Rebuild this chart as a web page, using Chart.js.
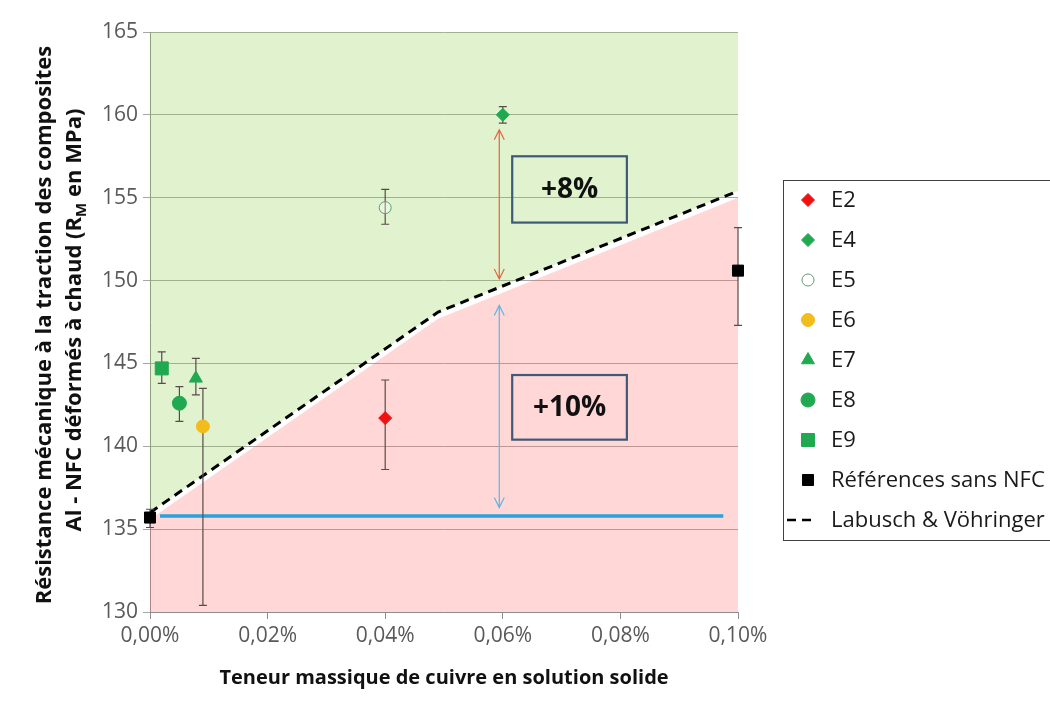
<!DOCTYPE html>
<html>
<head>
<meta charset="utf-8">
<script src="https://cdn.jsdelivr.net/npm/chart.js"></script>
<style>
  html, body { margin: 0; padding: 0; background: #fff; }
</style>
</head>
<body>
<canvas id="cuChart" width="1050" height="702"></canvas>
<script>
const fontFam = "'Open Sans', 'DejaVu Sans', sans-serif";

// valeurs : x en % massique de Cu, y en MPa
const e2X = [0.04],   e2Y = [141.7], e2Err = [[138.6, 144.0]];
const e4X = [0.06],   e4Y = [160.0], e4Err = [[159.5, 160.5]];
const e5X = [0.04],   e5Y = [154.4], e5Err = [[153.4, 155.5]];
const e6X = [0.009],  e6Y = [141.2], e6Err = [[130.4, 143.5]];
const e7X = [0.0078], e7Y = [144.1], e7Err = [[143.1, 145.3]];
const e8X = [0.005],  e8Y = [142.6], e8Err = [[141.5, 143.6]];
const e9X = [0.002],  e9Y = [144.7], e9Err = [[143.8, 145.7]];
const refX = [0, 0.1], refY = [135.7, 150.6];
const refErr = [[135.1, 136.2], [147.3, 153.2]];

// modele Labusch & Vohringer et limite de la zone rouge
const labuschX = [0, 0.049, 0.1];
const labuschY = [136.0, 148.1, 155.4];
const redEdgeY = [135.6, 147.7, 155.0];

// niveau de reference (ligne bleue)
const baseX = [0.0017, 0.0975];
const baseY = [135.8, 135.8];

// fleches et encadres de gain
const gainArrows = [
  { x: 0.0594, from: 150.1, to: 159.1, color: "#e4643f" },
  { x: 0.0594, from: 136.3, to: 148.5, color: "#62b4e2" },
];
const gainBoxes = [
  { x0: 0.0616, x1: 0.0811, y0: 153.5, y1: 157.5, text: "+8%" },
  { x0: 0.0616, x1: 0.0811, y0: 140.4, y1: 144.3, text: "+10%" },
];

const pts = (xs, ys) => xs.map((x, i) => ({ x: x, y: ys[i] }));

const green = "#21a951";

function pointSet(label, xs, ys, errs, style, radius, fill, stroke) {
  return {
    label: label,
    data: pts(xs, ys),
    errors: errs,
    inLegend: true,
    showLine: false,
    pointStyle: style,
    pointRadius: radius,
    pointBackgroundColor: fill,
    pointBorderColor: stroke,
    pointBorderWidth: 1,
    backgroundColor: fill,
    borderColor: stroke,
    clip: false,
    order: 0,
  };
}

function drawMarker(ctx, style, x, y, r, fill, stroke) {
  ctx.beginPath();
  if (style === "circle") {
    ctx.arc(x, y, r, 0, Math.PI * 2);
  } else if (style === "rectRot") {
    ctx.moveTo(x - r, y);
    ctx.lineTo(x, y - r);
    ctx.lineTo(x + r, y);
    ctx.lineTo(x, y + r);
    ctx.closePath();
  } else if (style === "rect") {
    const s = r * Math.SQRT1_2;
    ctx.rect(x - s, y - s, 2 * s, 2 * s);
  } else if (style === "triangle") {
    ctx.moveTo(x, y - r);
    ctx.lineTo(x + r * 0.866, y + r / 2);
    ctx.lineTo(x - r * 0.866, y + r / 2);
    ctx.closePath();
  }
  ctx.fillStyle = fill;
  ctx.fill();
  ctx.strokeStyle = stroke;
  ctx.lineWidth = 1;
  ctx.stroke();
}

const errorBars = {
  id: "errorBars",
  beforeDatasetDraw(chart, args) {
    const ds = chart.data.datasets[args.index];
    if (!ds.errors) return;
    const { ctx } = chart;
    const xs = chart.scales.x, ys = chart.scales.y;
    ctx.save();
    ctx.strokeStyle = "#5a4b4b";
    ctx.lineWidth = 1.2;
    ds.errors.forEach(([lo, hi], i) => {
      const px = xs.getPixelForValue(ds.data[i].x);
      const top = ys.getPixelForValue(hi);
      const bot = ys.getPixelForValue(lo);
      ctx.beginPath();
      ctx.moveTo(px, top);
      ctx.lineTo(px, bot);
      ctx.moveTo(px - 4, top);
      ctx.lineTo(px + 4, top);
      ctx.moveTo(px - 4, bot);
      ctx.lineTo(px + 4, bot);
      ctx.stroke();
    });
    ctx.restore();
  },
};

const gainMarks = {
  id: "gainMarks",
  afterDatasetsDraw(chart) {
    const { ctx } = chart;
    const xs = chart.scales.x, ys = chart.scales.y;
    ctx.save();
    gainArrows.forEach((a) => {
      const px = xs.getPixelForValue(a.x);
      const p1 = ys.getPixelForValue(a.from);
      const p2 = ys.getPixelForValue(a.to);
      ctx.strokeStyle = a.color;
      ctx.lineWidth = 1.2;
      ctx.beginPath();
      ctx.moveTo(px, p1);
      ctx.lineTo(px, p2);
      ctx.moveTo(px - 5, p2 + 10);
      ctx.lineTo(px, p2);
      ctx.lineTo(px + 5, p2 + 10);
      ctx.moveTo(px - 5, p1 - 10);
      ctx.lineTo(px, p1);
      ctx.lineTo(px + 5, p1 - 10);
      ctx.stroke();
    });
    gainBoxes.forEach((b) => {
      const l = xs.getPixelForValue(b.x0), r = xs.getPixelForValue(b.x1);
      const t = ys.getPixelForValue(b.y1), btm = ys.getPixelForValue(b.y0);
      ctx.strokeStyle = "#3d5a76";
      ctx.lineWidth = 2.2;
      ctx.strokeRect(l, t, r - l, btm - t);
      ctx.fillStyle = "#111";
      ctx.font = "bold 28px " + fontFam;
      ctx.textAlign = "center";
      ctx.textBaseline = "middle";
      ctx.fillText(b.text, (l + r) / 2, (t + btm) / 2 + 1);
    });
    ctx.restore();
  },
};

const sideTexts = {
  id: "sideTexts",
  afterDraw(chart) {
    const { ctx, chartArea } = chart;
    const cy = (chartArea.top + chartArea.bottom) / 2;
    ctx.save();
    // titre de l'axe vertical, sur deux lignes
    ctx.fillStyle = "#111";
    ctx.textBaseline = "middle";
    ctx.translate(45, cy + 3);
    ctx.rotate(-Math.PI / 2);
    ctx.font = "bold 22px " + fontFam;
    ctx.textAlign = "center";
    ctx.fillText("Résistance mécanique à la traction des composites", 0, 0);
    ctx.translate(5, 30);
    const partA = "Al - NFC déformés à chaud (R";
    const partB = "M";
    const partC = " en MPa)";
    const wA = ctx.measureText(partA).width;
    const wC = ctx.measureText(partC).width;
    ctx.font = "bold 15px " + fontFam;
    const wB = ctx.measureText(partB).width;
    let pos = -(wA + wB + wC) / 2;
    ctx.textAlign = "left";
    ctx.font = "bold 22px " + fontFam;
    ctx.fillText(partA, pos, 0);
    pos += wA;
    ctx.font = "bold 15px " + fontFam;
    ctx.fillText(partB, pos, 7);
    pos += wB;
    ctx.font = "bold 22px " + fontFam;
    ctx.fillText(partC, pos, 0);
    ctx.restore();

    // legende encadree a droite
    ctx.save();
    const boxLeft = chartArea.right + 45;
    ctx.strokeStyle = "#404040";
    ctx.lineWidth = 1;
    ctx.strokeRect(boxLeft + 0.5, 180.5, 300, 360);
    ctx.font = "22px " + fontFam;
    ctx.textAlign = "left";
    ctx.textBaseline = "middle";
    let rowY = 200;
    chart.data.datasets.forEach((ds) => {
      if (!ds.inLegend) return;
      const mx = boxLeft + 25;
      if (ds.pointStyle === false) {
        ctx.strokeStyle = ds.borderColor;
        ctx.lineWidth = 2.5;
        ctx.beginPath();
        ctx.moveTo(mx - 21, rowY);
        ctx.lineTo(mx - 12, rowY);
        ctx.moveTo(mx - 6, rowY);
        ctx.lineTo(mx + 3, rowY);
        ctx.stroke();
      } else {
        drawMarker(ctx, ds.pointStyle, mx, rowY, ds.pointRadius,
          ds.pointBackgroundColor, ds.pointBorderColor);
      }
      ctx.fillStyle = "#1a1a1a";
      ctx.fillText(ds.label, boxLeft + 48, rowY + 1);
      rowY += 40;
    });
    ctx.restore();
  },
};

new Chart(document.getElementById("cuChart"), {
  type: "line",
  data: {
    datasets: [
      pointSet("E2", e2X, e2Y, e2Err, "rectRot", 6.5, "#f01010", "#f01010"),
      pointSet("E4", e4X, e4Y, e4Err, "rectRot", 6.5, green, green),
      pointSet("E5", e5X, e5Y, e5Err, "circle", 6, "rgba(255,255,255,0.35)", "#5f9a72"),
      pointSet("E6", e6X, e6Y, e6Err, "circle", 6.5, "#f2bc1b", "#f2bc1b"),
      pointSet("E7", e7X, e7Y, e7Err, "triangle", 7.5, green, green),
      pointSet("E8", e8X, e8Y, e8Err, "circle", 7, green, green),
      pointSet("E9", e9X, e9Y, e9Err, "rect", 9.2, green, green),
      pointSet("Références sans NFC", refX, refY, refErr, "rect", 7.8, "#000", "#000"),
      {
        label: "Labusch & Vöhringer",
        data: pts(labuschX, labuschY),
        inLegend: true,
        pointStyle: false,
        pointRadius: 0,
        borderColor: "#000",
        borderWidth: 3,
        borderDash: [9, 6],
        tension: 0,
        fill: false,
        order: 1,
      },
      {
        label: "base",
        data: pts(baseX, baseY),
        pointRadius: 0,
        borderColor: "#29a3dd",
        borderWidth: 3.5,
        fill: false,
        order: 2,
      },
      {
        label: "zone rouge",
        data: pts(labuschX, redEdgeY),
        pointRadius: 0,
        borderWidth: 0,
        borderColor: "rgba(0,0,0,0)",
        backgroundColor: "rgba(255,110,110,0.28)",
        fill: "start",
        order: 3,
      },
      {
        label: "zone verte",
        data: pts(labuschX, labuschY),
        pointRadius: 0,
        borderWidth: 0,
        borderColor: "rgba(0,0,0,0)",
        backgroundColor: "rgba(146,208,80,0.28)",
        fill: "end",
        order: 4,
      },
    ],
  },
  options: {
    responsive: false,
    animation: false,
    devicePixelRatio: 1,
    layout: { padding: { top: 32, right: 312, bottom: 0, left: 0 } },
    plugins: {
      legend: { display: false },
      tooltip: { enabled: false },
    },
    scales: {
      x: {
        type: "linear",
        min: 0,
        max: 0.1,
        afterFit: (s) => { s.height = 90; },
        ticks: {
          stepSize: 0.02,
          color: "#595959",
          font: { family: fontFam, size: 21 },
          padding: 4,
          maxRotation: 0,
          callback: (v) => v.toFixed(2).replace(".", ",") + "%",
        },
        grid: { drawOnChartArea: false, drawTicks: true, tickLength: 7, color: "#8c8c8c" },
        border: { color: "#8c8c8c" },
        title: {
          display: true,
          text: "Teneur massique de cuivre en solution solide",
          color: "#111",
          font: { family: fontFam, size: 20, weight: "bold" },
          padding: { top: 0, bottom: 12 },
        },
      },
      y: {
        min: 130,
        max: 165,
        afterFit: (s) => { s.width = 150; },
        ticks: {
          stepSize: 5,
          color: "#595959",
          font: { family: fontFam, size: 21 },
          padding: 5,
        },
        grid: { color: "#a6a6a6", tickLength: 7 },
        border: { color: "#8c8c8c" },
      },
    },
  },
  plugins: [errorBars, gainMarks, sideTexts],
});
</script>
</body>
</html>
